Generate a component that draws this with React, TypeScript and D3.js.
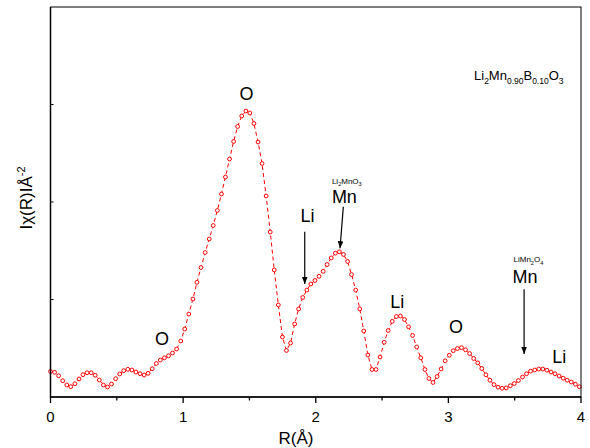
import React from "react";
import * as d3 from "d3";

const rValues = [0, 0.031, 0.061, 0.092, 0.123, 0.153, 0.184, 0.215, 0.245, 0.276, 0.307, 0.337, 0.368, 0.399, 0.430, 0.460, 0.491, 0.522, 0.552, 0.583, 0.614, 0.644, 0.675, 0.706, 0.736, 0.767, 0.798, 0.828, 0.859, 0.890, 0.920, 0.951, 0.982, 1.012, 1.043, 1.074, 1.104, 1.135, 1.166, 1.197, 1.227, 1.258, 1.289, 1.319, 1.350, 1.381, 1.411, 1.442, 1.473, 1.503, 1.534, 1.565, 1.595, 1.626, 1.657, 1.687, 1.718, 1.749, 1.779, 1.810, 1.841, 1.871, 1.902, 1.933, 1.963, 1.994, 2.025, 2.056, 2.086, 2.117, 2.148, 2.178, 2.209, 2.240, 2.270, 2.301, 2.332, 2.362, 2.393, 2.424, 2.454, 2.485, 2.516, 2.546, 2.577, 2.608, 2.638, 2.669, 2.700, 2.730, 2.761, 2.792, 2.823, 2.853, 2.884, 2.915, 2.945, 2.976, 3.007, 3.037, 3.068, 3.099, 3.129, 3.160, 3.191, 3.221, 3.252, 3.283, 3.313, 3.344, 3.375, 3.405, 3.436, 3.467, 3.497, 3.528, 3.559, 3.589, 3.620, 3.651, 3.682, 3.712, 3.743, 3.774, 3.804, 3.835, 3.866, 3.896, 3.927, 3.958, 3.988];

const chiValues = [0.262, 0.253, 0.218, 0.167, 0.123, 0.106, 0.136, 0.185, 0.229, 0.249, 0.249, 0.223, 0.174, 0.123, 0.103, 0.133, 0.188, 0.236, 0.270, 0.284, 0.277, 0.256, 0.239, 0.226, 0.243, 0.290, 0.344, 0.379, 0.402, 0.423, 0.451, 0.492, 0.574, 0.697, 0.851, 1.005, 1.176, 1.328, 1.482, 1.621, 1.759, 1.913, 2.082, 2.256, 2.441, 2.621, 2.774, 2.882, 2.933, 2.913, 2.805, 2.615, 2.395, 2.062, 1.692, 1.303, 0.944, 0.615, 0.477, 0.554, 0.749, 0.903, 1.021, 1.097, 1.159, 1.195, 1.238, 1.289, 1.359, 1.426, 1.475, 1.489, 1.462, 1.390, 1.256, 1.097, 0.903, 0.677, 0.431, 0.282, 0.282, 0.410, 0.561, 0.682, 0.776, 0.825, 0.831, 0.795, 0.720, 0.631, 0.513, 0.402, 0.282, 0.190, 0.149, 0.210, 0.287, 0.371, 0.428, 0.475, 0.497, 0.506, 0.484, 0.446, 0.395, 0.350, 0.292, 0.228, 0.172, 0.127, 0.101, 0.089, 0.093, 0.116, 0.138, 0.169, 0.205, 0.238, 0.265, 0.277, 0.287, 0.287, 0.275, 0.256, 0.239, 0.215, 0.193, 0.172, 0.154, 0.131, 0.105];

const xMajorTicks = [0, 1, 2, 3, 4];
const xMinorTicks = [0.5, 1.5, 2.5, 3.5];
const yTicks = [1, 2, 3];

type Seg = { t: string; sub?: boolean; sup?: boolean };

// peak labels: [R, value] at text baseline
const peakLabels: { text: string; r: number; v: number }[] = [
  { text: "O", r: 1.478, v: 3.051 },
  { text: "O", r: 0.841, v: 0.538 },
  { text: "Li", r: 1.937, v: 1.8 },
  { text: "Mn", r: 2.216, v: 1.99 },
  { text: "Li", r: 2.615, v: 0.913 },
  { text: "O", r: 3.058, v: 0.656 },
  { text: "Mn", r: 3.578, v: 1.174 },
  { text: "Li", r: 3.837, v: 0.349 },
];

const phaseLabels: { segs: Seg[]; r: number; v: number }[] = [
  { segs: [{ t: "Li" }, { t: "2", sub: true }, { t: "MnO" }, { t: "3", sub: true }], r: 2.234, v: 2.185 },
  { segs: [{ t: "LiMn" }, { t: "2", sub: true }, { t: "O" }, { t: "4", sub: true }], r: 3.603, v: 1.38 },
];

const arrows: { r1: number; v1: number; r2: number; v2: number }[] = [
  { r1: 1.917, v1: 1.695, r2: 1.917, v2: 1.159 },
  { r1: 2.208, v1: 1.952, r2: 2.183, v2: 1.525 },
  { r1: 3.571, v1: 1.105, r2: 3.571, v2: 0.441 },
];

const titleSegs: Seg[] = [
  { t: "Li" }, { t: "2", sub: true }, { t: "Mn" }, { t: "0.90", sub: true },
  { t: "B" }, { t: "0.10", sub: true }, { t: "O" }, { t: "3", sub: true },
];

const FONT = "'Liberation Sans', Arial, Helvetica, sans-serif";
const W = 590, H = 448;
const left = 50.5, right = 581, top = 7, bottom = 397;

function segText(segs: Seg[], main: number, small: number, shift: number) {
  const out: React.ReactNode[] = [];
  let cur = 0;
  segs.forEach((s, i) => {
    const target = s.sub ? shift : s.sup ? -shift : 0;
    const dy = target - cur;
    cur = target;
    out.push(
      <tspan key={i} dy={dy} fontSize={s.sub || s.sup ? small : main}>
        {s.t}
      </tspan>
    );
  });
  return out;
}

export default function App() {
  const x = d3.scaleLinear().domain([0, 4]).range([left, right]);
  const y = d3.scaleLinear().domain([0, 4]).range([bottom, top]);
  const n = Math.min(rValues.length, chiValues.length);
  const pts = d3.range(n).map((i) => [rValues[i], chiValues[i]] as [number, number]);
  const line = d3
    .line<[number, number]>()
    .x((d) => x(d[0]))
    .y((d) => y(d[1]));

  const red = "#ff0000";

  return (
    <svg
      width={W}
      height={H}
      style={{ position: "absolute", left: 0, top: 0, background: "#fff" }}
      fontFamily={FONT}
    >
      <defs>
        <marker id="ah" viewBox="0 0 10 10" refX="10" refY="5" markerWidth="7" markerHeight="9" orient="auto" markerUnits="userSpaceOnUse">
          <path d="M0,1 L10,5 L0,9 z" fill="#000" />
        </marker>
      </defs>
      <rect x={0} y={0} width={W} height={H} fill="#fff" />

      {/* data */}
      <path d={line(pts) || ""} fill="none" stroke={red} strokeWidth={1} strokeDasharray="4,3" />
      {pts.map((d, i) => (
        <circle key={i} cx={x(d[0])} cy={y(d[1])} r={1.9} fill="#fff" stroke={red} strokeWidth={1} />
      ))}

      {/* frame */}
      <rect x={left} y={top} width={right - left} height={bottom - top} fill="none" stroke="#000" strokeWidth={1} />
      <line x1={left} x2={right} y1={bottom} y2={bottom} stroke="#000" strokeWidth={1.5} />
      <line x1={left} x2={left} y1={top} y2={bottom} stroke="#000" strokeWidth={1.5} />

      {/* x ticks */}
      {xMajorTicks.map((t) => (
        <g key={"M" + t}>
          <line x1={x(t)} x2={x(t)} y1={bottom} y2={bottom + 6} stroke="#000" strokeWidth={1.3} />
          <text x={x(t)} y={422} fontSize={15} textAnchor="middle" fill="#000">
            {t}
          </text>
        </g>
      ))}
      {xMinorTicks.map((t) => (
        <line key={"m" + t} x1={x(t)} x2={x(t)} y1={bottom} y2={bottom + 3.5} stroke="#000" strokeWidth={1.3} />
      ))}
      {yTicks.map((t) => (
        <line key={"y" + t} x1={left} x2={left + 3} y1={y(t)} y2={y(t)} stroke="#000" strokeWidth={1} />
      ))}

      {/* axis titles */}
      <text x={296} y={444} fontSize={17} textAnchor="middle" fill="#000">
        R(Å)
      </text>
      <text transform="translate(32,198) rotate(-90)" fontSize={17} textAnchor="middle" fill="#000">
        <tspan>Iχ(R)IÅ</tspan>
        <tspan dy={-7} fontSize={11}>-2</tspan>
      </text>

      {/* title formula */}
      <text x={474} y={80} fill="#000">
        {segText(titleSegs, 13, 8.5, 4)}
      </text>

      {/* annotations */}
      {peakLabels.map((p, i) => (
        <text key={"p" + i} x={x(p.r)} y={y(p.v)} fontSize={18} textAnchor="middle" fill="#000">
          {p.text}
        </text>
      ))}
      {phaseLabels.map((p, i) => (
        <text key={"ph" + i} x={x(p.r)} y={y(p.v)} textAnchor="middle" fill="#000">
          {segText(p.segs, 8, 5.5, 2.5)}
        </text>
      ))}
      {arrows.map((a, i) => (
        <line
          key={"a" + i}
          x1={x(a.r1)}
          y1={y(a.v1)}
          x2={x(a.r2)}
          y2={y(a.v2)}
          stroke="#000"
          strokeWidth={1.2}
          markerEnd="url(#ah)"
        />
      ))}
    </svg>
  );
}
